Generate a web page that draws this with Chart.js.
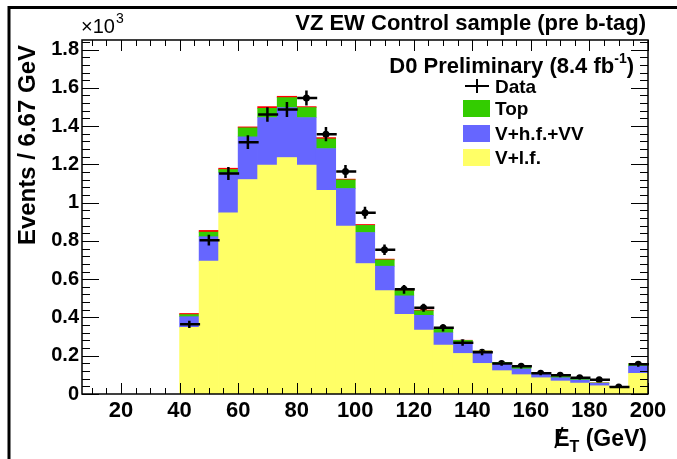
<!DOCTYPE html>
<html>
<head>
<meta charset="utf-8">
<script src="https://cdn.jsdelivr.net/npm/chart.js@4.4.1/dist/chart.umd.min.js"></script>
<style>
  html, body { margin: 0; padding: 0; background: #fff; }
</style>
</head>
<body>
<canvas id="myChart" width="677" height="459"></canvas>
<script>
'use strict';
// bin centres in GeV (bins 6.67 GeV wide, 40 -> 200)
const binCenters = [43.33, 50, 56.67, 63.33, 70, 76.67, 83.33, 90, 96.67, 103.33, 110, 116.67,
  123.33, 130, 136.67, 143.33, 150, 156.67, 163.33, 170, 176.67, 183.33, 190, 196.67];
const binWidth = 6.67;
// events (x10^3) per bin
const vlf = [0.348, 0.694, 0.947, 1.121, 1.196, 1.236, 1.196, 1.065, 0.877, 0.682, 0.540, 0.416,
  0.334, 0.256, 0.212, 0.160, 0.122, 0.101, 0.085, 0.068, 0.057, 0.043, 0.035, 0.108];
const vhf = [0.056, 0.128, 0.209, 0.223, 0.249, 0.261, 0.249, 0.218, 0.197, 0.162, 0.128, 0.097,
  0.077, 0.064, 0.053, 0.056, 0.035, 0.030, 0.019, 0.017, 0.016, 0.013, 0.003, 0.038];
const topBkg = [0.011, 0.024, 0.017, 0.047, 0.048, 0.052, 0.052, 0.050, 0.045, 0.037, 0.033, 0.027,
  0.024, 0.018, 0.015, 0.009, 0.008, 0.012, 0.007, 0.007, 0.007, 0.002, 0.001, 0.012];
const other = [0.006, 0.009, 0.007, 0.005, 0.009, 0.007, 0.005, 0.007, 0.004, 0.005, 0.004, 0.003,
  0.004, 0.002, 0.001, 0, 0, 0, 0, 0, 0, 0, 0, 0];
const dataVals = [0.364, 0.804, 1.152, 1.316, 1.461, 1.487, 1.547, 1.358, 1.163, 0.947, 0.754, 0.547,
  0.451, 0.346, 0.268, 0.218, 0.160, 0.145, 0.108, 0.098, 0.085, 0.075, 0.037, 0.155];
const dataErr = [0.019, 0.028, 0.034, 0.036, 0.038, 0.039, 0.039, 0.037, 0.034, 0.031, 0.027, 0.023,
  0.021, 0.019, 0.016, 0.015, 0.013, 0.012, 0.010, 0.010, 0.009, 0.009, 0.006, 0.012];
const xTicks = [20, 40, 60, 80, 100, 120, 140, 160, 180, 200];
const yTicks = [0, 0.2, 0.4, 0.6, 0.8, 1, 1.2, 1.4, 1.6, 1.8];

const FONT = "'Liberation Sans', Arial, sans-serif";
const pts = arr => arr.map((v, i) => ({ x: binCenters[i], y: v }));

function barSet(label, arr, color) {
  return {
    type: 'bar', label: label, data: pts(arr), backgroundColor: color,
    borderWidth: 0, barPercentage: 1, categoryPercentage: 1, stack: 'mc'
  };
}

const decor = {
  id: 'decor',
  afterDatasetsDraw(chart) {
    const { ctx, scales: { x, y } } = chart;
    // data error bars
    ctx.save();
    ctx.strokeStyle = '#000';
    ctx.lineWidth = 2.5;
    dataVals.forEach((v, i) => {
      const px = x.getPixelForValue(binCenters[i]);
      const py = y.getPixelForValue(v);
      const xl = x.getPixelForValue(binCenters[i] - binWidth / 2);
      const xr = x.getPixelForValue(binCenters[i] + binWidth / 2);
      const yt = y.getPixelForValue(v + dataErr[i]);
      const yb = y.getPixelForValue(v - dataErr[i]);
      ctx.beginPath();
      ctx.moveTo(xl + 0.5, py); ctx.lineTo(xr + 1, py);
      ctx.moveTo(px, yt); ctx.lineTo(px, yb);
      ctx.stroke();
    });
    ctx.restore();
  },
  afterDraw(chart) {
    const { ctx, chartArea: a, scales: { x, y } } = chart;
    ctx.save();
    ctx.strokeStyle = '#000';
    ctx.fillStyle = '#000';
    // frame
    ctx.lineWidth = 1.5;
    ctx.strokeRect(a.left, a.top, a.right - a.left, a.bottom - a.top);
    // ticks
    ctx.lineWidth = 1;
    ctx.beginPath();
    for (let v = 10; v <= 200; v += 5) {
      const px = Math.round(x.getPixelForValue(v)) + 0.5;
      const len = v % 20 === 0 ? 11 : 6;
      ctx.moveTo(px, a.bottom); ctx.lineTo(px, a.bottom - len);
      ctx.moveTo(px, a.top); ctx.lineTo(px, a.top + len);
    }
    for (let k = 0; k <= 46; k++) {
      const v = k * 0.04;
      const py = Math.round(y.getPixelForValue(v)) + 0.5;
      const len = k % 5 === 0 ? 17 : 8;
      ctx.moveTo(a.left, py); ctx.lineTo(a.left + len, py);
      ctx.moveTo(a.right, py); ctx.lineTo(a.right - len, py);
    }
    ctx.stroke();

    // outer border
    ctx.lineWidth = 3;
    ctx.beginPath();
    ctx.moveTo(9, 459); ctx.lineTo(9, 7.5); ctx.lineTo(677, 7.5);
    ctx.stroke();

    // title
    ctx.textBaseline = 'alphabetic';
    ctx.font = 'bold 22px ' + FONT;
    ctx.textAlign = 'right';
    ctx.fillText('VZ EW Control sample (pre b-tag)', a.right - 2, 30);

    // x10^3
    ctx.textAlign = 'left';
    ctx.font = '20px ' + FONT;
    ctx.fillText('\u00d710', 81, 33);
    const w10 = ctx.measureText('\u00d710').width;
    ctx.font = '14px ' + FONT;
    ctx.fillText('3', 81 + w10 + 1, 23);

    // D0 Preliminary
    const s1 = 'D0 Preliminary (8.4 fb';
    ctx.font = 'bold 14px ' + FONT;
    const wsup = ctx.measureText('-1').width;
    ctx.font = 'bold 22px ' + FONT;
    const w1 = ctx.measureText(s1).width;
    const wpar = ctx.measureText(')').width;
    const sx = 634 - wpar - wsup - w1;
    ctx.fillText(s1, sx, 73);
    ctx.font = 'bold 14px ' + FONT;
    ctx.fillText('-1', sx + w1, 63);
    ctx.font = 'bold 22px ' + FONT;
    ctx.fillText(')', sx + w1 + wsup, 73);

    // legend
    ctx.font = 'bold 19px ' + FONT;
    const lx = 463, tx = 495;
    ctx.lineWidth = 2;
    ctx.beginPath();
    ctx.moveTo(lx + 2, 86); ctx.lineTo(lx + 26, 86);
    ctx.moveTo(lx + 14, 79); ctx.lineTo(lx + 14, 93);
    ctx.stroke();
    ctx.fillText('Data', tx, 93);
    const boxes = [['Top', '#33cc00', 108], ['V+h.f.+VV', '#6666ff', 133], ['V+l.f.', '#ffff66', 157]];
    boxes.forEach(([t, c, cy]) => {
      ctx.fillStyle = c;
      ctx.fillRect(lx, cy - 8, 27, 17);
      ctx.fillStyle = '#000';
      ctx.fillText(t, tx, cy + 7);
    });

    // y title
    ctx.save();
    ctx.translate(35, a.top + 5);
    ctx.rotate(-Math.PI / 2);
    ctx.textAlign = 'right';
    ctx.font = 'bold 24px ' + FONT;
    ctx.fillText('Events / 6.67 GeV', 0, 0);
    ctx.restore();

    // x title: missing ET (GeV)
    ctx.font = 'bold 23px ' + FONT;
    const wRest = ctx.measureText(' (GeV)').width;
    const wE = ctx.measureText('E').width;
    ctx.font = 'bold 16px ' + FONT;
    const wT = ctx.measureText('T').width;
    const ex = a.right - 1 - wRest - wT - wE;
    const by = 446;
    ctx.font = 'bold 23px ' + FONT;
    ctx.textAlign = 'left';
    ctx.fillText('E', ex, by);
    ctx.lineWidth = 2;
    ctx.beginPath();
    ctx.moveTo(ex + 1, by + 2); ctx.lineTo(ex + wE * 0.55, by - 19);
    ctx.stroke();
    ctx.font = 'bold 16px ' + FONT;
    ctx.fillText('T', ex + wE, by + 6);
    ctx.font = 'bold 23px ' + FONT;
    ctx.fillText(' (GeV)', ex + wE + wT, by);
    ctx.restore();
  }
};

const ctx = document.getElementById('myChart');
const myChart = new Chart(ctx, {
  type: 'bar',
  data: {
    datasets: [
      barSet('V+l.f.', vlf, '#ffff66'),
      barSet('V+h.f.+VV', vhf, '#6666ff'),
      barSet('Top', topBkg, '#33cc00'),
      barSet('Other', other, '#ff0000'),
      {
        type: 'scatter', label: 'Data', data: pts(dataVals),
        pointRadius: 3.5, pointBackgroundColor: '#000', pointBorderColor: '#000', pointBorderWidth: 0
      }
    ]
  },
  options: {
    responsive: false,
    animation: false,
    layout: { padding: { left: 0, right: 29, top: 40, bottom: 0 } },
    plugins: { legend: { display: false }, tooltip: { enabled: false } },
    scales: {
      x: {
        type: 'linear', min: 6.67, max: 200, offset: false, stacked: true,
        grid: { display: false, drawTicks: false }, border: { display: false },
        afterBuildTicks: s => { s.ticks = xTicks.map(v => ({ value: v })); },
        afterFit: s => { s.height = 65; },
        ticks: {
          color: '#000', padding: 4, maxRotation: 0, autoSkip: false,
          font: { family: FONT, weight: 'bold', size: 22 },
          callback: v => String(v)
        }
      },
      y: {
        min: 0, max: 1.85, stacked: true,
        grid: { display: false, drawTicks: false }, border: { display: false },
        afterBuildTicks: s => { s.ticks = yTicks.map(v => ({ value: v })); },
        afterFit: s => { s.width = 82; },
        ticks: {
          color: '#000', padding: 3, autoSkip: false,
          font: { family: FONT, weight: 'bold', size: 20 },
          callback: v => String(+v.toFixed(1))
        }
      }
    }
  },
  plugins: [decor]
});
</script>
</body>
</html>
